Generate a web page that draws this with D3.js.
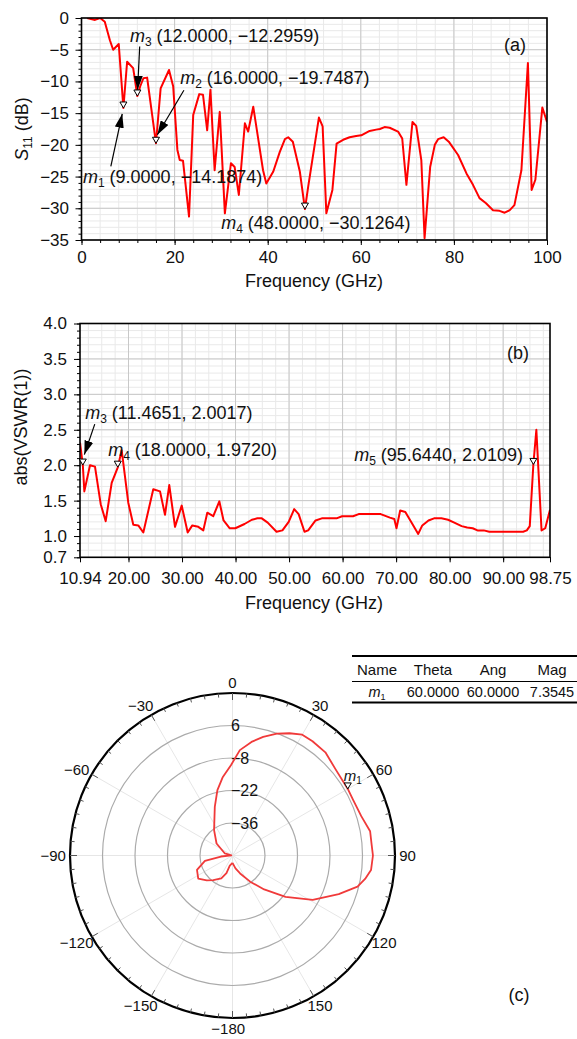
<!DOCTYPE html>
<meta charset="utf-8">
<style>
body { margin: 0; background: #fff; }
svg text { font-family: "Liberation Sans", Arial, sans-serif; fill: #111; }
</style>
<svg id="fig" width="577" height="1039"></svg>
<script src="https://cdn.jsdelivr.net/npm/d3@7"></script>
<script>

// (a) S11 in dB
var s11Freq = [1.2, 2.9, 4, 5, 6.1, 6.8, 8, 9, 9.8, 11.1, 12, 12.6, 13.3, 14.1, 16, 17, 18.8, 19.7,
  20.6, 21.1, 21.8, 23.1, 24, 25.3, 26.1, 27, 27.7, 28.6, 29.7, 30.8, 32.1, 32.9, 33.8, 35.1, 35.8,
  36.9, 39, 39.7, 41.2, 42.6, 43.7, 44.4, 45.4, 46.9, 48, 48.7, 51, 51.8, 52.6, 53.9, 54.8, 56.2,
  57.6, 59, 60.1, 61.9, 63.3, 64.1, 65.1, 66.2, 68, 68.9, 69.8, 71.1, 71.9, 73, 73.7, 74.9, 75.9,
  76.6, 77.8, 78.9, 80.9, 82.7, 84.1, 85.5, 86.9, 88.4, 89.8, 90.9, 92, 93, 94.5, 95.9, 96.7, 97.5,
  99, 100];
var s11Db = [0, -0.3, 0, -0.6, -3.5, -5, -4.1, -14.19, -6.9, -7.9, -12.3, -10.8, -9.5, -9.4, -19.75,
  -11.1, -8.2, -10.8, -20.8, -22.4, -22.5, -31.3, -15.3, -12, -12.1, -17.7, -11.3, -24, -14.8, -30.8,
  -22.9, -23.5, -27.9, -16.6, -17.9, -14, -24, -26.1, -24.2, -21.1, -19.1, -18.8, -19.5, -24.2,
  -30.13, -26.6, -15.7, -17.1, -30.8, -27.1, -19.8, -19.2, -18.8, -18.6, -18.5, -17.8, -17.6, -17.5,
  -17.2, -17.3, -17.9, -19, -26.3, -16.4, -17, -22.4, -34.7, -23.5, -20, -19.1, -18.8, -19.5, -21.6,
  -24.5, -26.3, -28.4, -29.2, -30.3, -30.4, -30.7, -30.3, -29.5, -24, -7.1, -27.1, -25.5, -14.1, -16.4];
var s11XTicks = [0, 20, 40, 60, 80, 100];
var s11YTicks = [0, -5, -10, -15, -20, -25, -30, -35];
var s11Markers = [
  {name: "1", f: 9, v: -14.1874, lx: 0.3, ly: -26.0, ax: [6.3, -23.4], bx: [8.75, -15.1]},
  {name: "2", f: 16, v: -19.7487, lx: 21.2, ly: -10.4, ax: [22.0, -11.4], bx: [16.3, -18.4]},
  {name: "3", f: 12, v: -12.2959, lx: 10.4, ly: -3.8, ax: [12.5, -4.5], bx: [12.05, -11.3]},
  {name: "4", f: 48, v: -30.1264, lx: 30.0, ly: -33.3}
];

// (b) VSWR
var vswrFreq = [10.94, 11.47, 11.75, 12.81, 13.74, 14.81, 15.74, 16.86, 18, 18.73, 19.96, 20.9, 21.83,
  22.77, 24.63, 25.89, 26.82, 27.62, 28.69, 29.94, 31.06, 31.92, 33.04, 33.98, 34.72, 35.84, 36.97,
  37.76, 38.92, 39.96, 41.68, 43.05, 44.08, 44.9, 46.01, 47.66, 48.76, 49.93, 50.96, 51.79, 52.88,
  53.57, 54.95, 56.12, 57.49, 58.87, 59.9, 61.96, 63, 64.7, 67.12, 68.84, 69.66, 70.07, 70.76, 71.72,
  72.96, 74.13, 74.89, 76.05, 77.09, 78.46, 79.7, 80.87, 82.24, 83.27, 84.31, 85.2, 86.37, 87.4,
  88.78, 92.21, 93.73, 94.42, 94.97, 95.64, 96.2, 97.17, 97.86, 98.75];
var vswrVal = [2.32, 2.0, 1.63, 2.0, 1.98, 1.45, 1.21, 1.75, 1.97, 2.21, 1.47, 1.16, 1.15, 1.05, 1.66,
  1.63, 1.3, 1.72, 1.13, 1.43, 1.05, 1.15, 1.13, 1.08, 1.33, 1.28, 1.49, 1.22, 1.11, 1.11, 1.17, 1.23,
  1.25, 1.25, 1.19, 1.06, 1.08, 1.2, 1.38, 1.31, 1.06, 1.08, 1.22, 1.25, 1.25, 1.25, 1.28, 1.28, 1.31,
  1.31, 1.31, 1.26, 1.24, 1.11, 1.36, 1.34, 1.18, 1.03, 1.15, 1.22, 1.25, 1.25, 1.23, 1.19, 1.14, 1.12,
  1.11, 1.08, 1.08, 1.06, 1.06, 1.06, 1.06, 1.08, 1.14, 2.01, 2.5, 1.08, 1.11, 1.37];
var vswrXTicks = [10.94, 20, 30, 40, 50, 60, 70, 80, 90, 98.75];
var vswrYTicks = [0.7, 1.0, 1.5, 2.0, 2.5, 3.0, 3.5, 4.0];
var vswrMarkers = [
  {name: "3", f: 11.4651, v: 2.0017, lx: 11.9, ly: 2.65, anchor: "start", ax: [13.7, 2.58], bx: [11.75, 2.15]},
  {name: "4", f: 18, v: 1.972, lx: 16.2, ly: 2.13, anchor: "start"},
  {name: "5", f: 95.644, v: 2.0109, lx: 93.7, ly: 2.06, anchor: "end"}
];

// (c) polar pattern
var polarAngle = [-180, -165, -161, -154, -142, -134, -124, -112, -101, -95, -88, -75, -53, -36, -20,
  -13, -7, -1, 4, 9.5, 14.5, 20, 25, 30, 35, 42, 50, 60, 65, 73, 80, 85, 90, 96, 100, 104, 110, 119,
  128, 137, 146, 157, 167, 180];
var polarDb = [-46.8, -45.5, -42, -39, -36.5, -34.6, -32.2, -33.5, -37.9, -45, -49.5, -46.6, -41.4,
  -36.5, -27.7, -21.1, -15.9, -11.1, -4.5, -0.4, 2.8, 5.9, 8.1, 10.1, 10.1, 9.8, 7.9, 7.35, 7.2, 8.0,
  10.2, 10.1, 10.5, 10, 8, 5.5, -1.3, -10.5, -21, -30, -36.4, -41.6, -44.3, -46.8];
var ringTicks = [-36, -22, -8, 6];
var angleTicks = [0, 30, 60, 90, 120, 150, -180, -150, -120, -90, -60, -30];
var tableHead = ["Name", "Theta", "Ang", "Mag"];
var tableRow = ["1", "60.0000", "60.0000", "7.3545"];

var svg = d3.select("#fig");

var defs = svg.append("defs");
defs.append("marker")
    .attr("id", "arr")
    .attr("viewBox", "0 0 14 9")
    .attr("refX", 14).attr("refY", 4.5)
    .attr("markerUnits", "userSpaceOnUse")
    .attr("markerWidth", 14).attr("markerHeight", 9)
    .attr("orient", "auto")
  .append("path").attr("d", "M0,0L14,4.5L0,9Z").attr("fill", "#000");

function grid(g, x, y, xs, ys, col) {
  g.append("g").selectAll("line").data(xs).enter().append("line")
      .attr("x1", function(d) { return x(d); }).attr("x2", function(d) { return x(d); })
      .attr("y1", y.range()[0]).attr("y2", y.range()[1])
      .attr("stroke", col).attr("stroke-width", 1);
  g.append("g").selectAll("line").data(ys).enter().append("line")
      .attr("y1", function(d) { return y(d); }).attr("y2", function(d) { return y(d); })
      .attr("x1", x.range()[0]).attr("x2", x.range()[1])
      .attr("stroke", col).attr("stroke-width", 1);
}

function axes(g, x, y, xt, yt, xMinor, yMinor, xfmt, yfmt, xpad, ypad) {
  var bottom = y.range()[0];
  var left = x.range()[0];
  g.append("g").attr("transform", "translate(0," + bottom + ")")
      .call(d3.axisBottom(x).tickValues(xMinor).tickSize(3).tickFormat(""));
  g.append("g").attr("transform", "translate(" + left + ",0)")
      .call(d3.axisLeft(y).tickValues(yMinor).tickSize(3).tickFormat(""));
  g.append("g").attr("class", "ax").attr("transform", "translate(0," + bottom + ")")
      .call(d3.axisBottom(x).tickValues(xt).tickSize(5).tickPadding(xpad).tickFormat(xfmt));
  g.append("g").attr("class", "ax").attr("transform", "translate(" + left + ",0)")
      .call(d3.axisLeft(y).tickValues(yt).tickSize(6).tickPadding(ypad).tickFormat(yfmt));
  g.selectAll(".domain").remove();
  g.selectAll(".tick line").attr("stroke", "#000");
  g.selectAll(".ax text").style("font-size", "17px").attr("fill", "#111");
  g.append("rect")
      .attr("x", left).attr("y", y.range()[1])
      .attr("width", x.range()[1] - left).attr("height", bottom - y.range()[1])
      .attr("fill", "none").attr("stroke", "#000").attr("stroke-width", 1.6);
}

function mlabel(g, x, y, m, text, anchor) {
  var t = g.append("text").attr("x", x).attr("y", y)
      .attr("text-anchor", anchor || "start").style("font-size", "18px");
  t.append("tspan").attr("font-style", "italic").text("m");
  t.append("tspan").attr("dy", 4).style("font-size", "12px").text(m);
  t.append("tspan").attr("dy", -4).text(" " + text);
}

function tri(g, px, py) {
  g.append("path")
      .attr("transform", "translate(" + px + "," + py + ")")
      .attr("d", "M-3.5,-6L3.5,-6L0,0Z")
      .attr("fill", "#fff").attr("stroke", "#000").attr("stroke-width", 1);
}

// ---------- (a) ----------
var xa = d3.scaleLinear().domain([0, 100]).range([81.5, 547]);
var ya = d3.scaleLinear().domain([-35, 0]).range([240, 18]);
var ga = svg.append("g");

grid(ga, xa, ya, d3.range(0, 101, 4), d3.range(-35, 1, 1), "#e9e9e9");
grid(ga, xa, ya, s11XTicks, s11YTicks, "#c8c8c8");

defs.append("clipPath").attr("id", "clipa").append("rect")
    .attr("x", 81.5).attr("y", 18).attr("width", 465.5).attr("height", 222);

ga.append("path")
    .datum(d3.zip(s11Freq, s11Db))
    .attr("clip-path", "url(#clipa)")
    .attr("fill", "none").attr("stroke", "#ff0000").attr("stroke-width", 2)
    .attr("stroke-linejoin", "round")
    .attr("d", d3.line().x(function(d) { return xa(d[0]); }).y(function(d) { return ya(d[1]); }));

axes(ga, xa, ya, s11XTicks, s11YTicks, d3.range(0, 101, 4), d3.range(-35, 1, 1),
  d3.format("d"), d3.format("d"), 5.5, 6.5);

s11Markers.forEach(function(m) {
  tri(ga, xa(m.f), ya(m.v));
  mlabel(ga, xa(m.lx), ya(m.ly), m.name,
    "(" + m.f.toFixed(4) + ", " + d3.format(".4f")(m.v) + ")");
  if (m.ax) {
    ga.append("line")
        .attr("x1", xa(m.ax[0])).attr("y1", ya(m.ax[1]))
        .attr("x2", xa(m.bx[0])).attr("y2", ya(m.bx[1]))
        .attr("stroke", "#000").attr("stroke-width", 1.2)
        .attr("marker-end", "url(#arr)");
  }
});

ga.append("text").attr("x", 515).attr("y", 51).attr("text-anchor", "middle")
    .style("font-size", "18px").text("(a)");
ga.append("text").attr("x", 314).attr("y", 287).attr("text-anchor", "middle")
    .style("font-size", "18px").text("Frequency (GHz)");
var yla = ga.append("text").attr("transform", "translate(28,129) rotate(-90)")
    .attr("text-anchor", "middle").style("font-size", "18px");
yla.append("tspan").attr("font-style", "italic").text("S");
yla.append("tspan").attr("dy", 4).style("font-size", "12px").text("11");
yla.append("tspan").attr("dy", -4).text(" (dB)");

// ---------- (b) ----------
var xb = d3.scaleLinear().domain([10.94, 98.75]).range([80, 550]);
var yb = d3.scaleLinear().domain([0.7, 4.0]).range([557.3, 323.5]);
var gb = svg.append("g");

var xbMinor = d3.range(12.5, 98.75, 2.5);
grid(gb, xb, yb, xbMinor, d3.range(0.8, 4.0, 0.1), "#e9e9e9");
grid(gb, xb, yb, vswrXTicks.slice(1, -1), vswrYTicks.slice(1, -1), "#c8c8c8");

defs.append("clipPath").attr("id", "clipb").append("rect")
    .attr("x", 80).attr("y", 323.5).attr("width", 470).attr("height", 233.8);

gb.append("path")
    .datum(d3.zip(vswrFreq, vswrVal))
    .attr("clip-path", "url(#clipb)")
    .attr("fill", "none").attr("stroke", "#ff0000").attr("stroke-width", 2)
    .attr("stroke-linejoin", "round")
    .attr("d", d3.line().x(function(d) { return xb(d[0]); }).y(function(d) { return yb(d[1]); }));

axes(gb, xb, yb, vswrXTicks, vswrYTicks, vswrXTicks, d3.range(0.7, 4.0001, 0.1),
  d3.format(".2f"), d3.format(".1f"), 9.5, 7);

vswrMarkers.forEach(function(m) {
  tri(gb, xb(m.f), yb(m.v));
  mlabel(gb, xb(m.lx), yb(m.ly), m.name,
    "(" + m.f.toFixed(4) + ", " + m.v.toFixed(4) + ")", m.anchor);
  if (m.ax) {
    gb.append("line")
        .attr("x1", xb(m.ax[0])).attr("y1", yb(m.ax[1]))
        .attr("x2", xb(m.bx[0])).attr("y2", yb(m.bx[1]))
        .attr("stroke", "#000").attr("stroke-width", 1.2)
        .attr("marker-end", "url(#arr)");
  }
});

gb.append("text").attr("x", 518).attr("y", 359).attr("text-anchor", "middle")
    .style("font-size", "18px").text("(b)");
gb.append("text").attr("x", 314).attr("y", 609).attr("text-anchor", "middle")
    .style("font-size", "18px").text("Frequency (GHz)");
gb.append("text").attr("transform", "translate(27,427) rotate(-90)")
    .attr("text-anchor", "middle").style("font-size", "18px").text("abs(VSWR(1))");

// ---------- (c) ----------
var rp = d3.scaleLinear().domain([-50, 20]).range([0, 162.5]);
var gc = svg.append("g").attr("transform", "translate(232.5,855.5)");
var rad = Math.PI / 180;

gc.selectAll(".spoke").data(d3.range(-180, 180, 30)).enter().append("line")
    .attr("x1", 0).attr("y1", 0)
    .attr("x2", function(d) { return rp(20) * Math.sin(d * rad); })
    .attr("y2", function(d) { return -rp(20) * Math.cos(d * rad); })
    .attr("stroke", "#e6e6e6").attr("stroke-width", 1);

gc.selectAll(".ring").data(ringTicks).enter().append("circle")
    .attr("r", function(d) { return rp(d); })
    .attr("fill", "none").attr("stroke", "#ababab").attr("stroke-width", 1.2);

gc.append("circle").attr("r", rp(20))
    .attr("fill", "none").attr("stroke", "#000").attr("stroke-width", 2.2);

gc.selectAll(".tk").data(d3.range(0, 360, 5)).enter().append("line")
    .attr("x1", function(d) { return rp(20) * Math.sin(d * rad); })
    .attr("y1", function(d) { return -rp(20) * Math.cos(d * rad); })
    .attr("x2", function(d) { var l = d % 30 ? 4 : 7; return (rp(20) - l) * Math.sin(d * rad); })
    .attr("y2", function(d) { var l = d % 30 ? 4 : 7; return -(rp(20) - l) * Math.cos(d * rad); })
    .attr("stroke", "#555").attr("stroke-width", 1);

// digits sit on the angle, a minus sign hangs off to the left
gc.selectAll(".alab").data(angleTicks).enter().append("text")
    .attr("x", function(d) {
      var cx = 175 * Math.sin(d * rad);
      return d < 0 ? cx + String(-d).length * 4.2 : cx;
    })
    .attr("y", function(d) { return -173 * Math.cos(d * rad); })
    .attr("text-anchor", function(d) { return d < 0 ? "end" : "middle"; })
    .attr("dominant-baseline", "central")
    .style("font-size", "15px")
    .text(function(d) { return d3.format("d")(d); });

gc.selectAll(".rlab").data(ringTicks).enter().append("text")
    .attr("x", -1.5).attr("y", function(d) { return -rp(d); })
    .attr("dominant-baseline", "central")
    .style("font-size", "16px")
    .text(function(d) { return d3.format("d")(d); });

gc.append("path")
    .datum(d3.zip(polarAngle, polarDb))
    .attr("fill", "none").attr("stroke", "#f03a3a").attr("stroke-width", 1.8)
    .attr("stroke-linejoin", "round")
    .attr("d", d3.lineRadial()
        .angle(function(d) { return d[0] * rad; })
        .radius(function(d) { return rp(d[1]); }));

var m1a = +tableRow[1], m1r = rp(+tableRow[3]);
var m1x = m1r * Math.sin(m1a * rad), m1y = -m1r * Math.cos(m1a * rad);
tri(gc, m1x, m1y);
var ml = gc.append("text").attr("x", m1x - 4).attr("y", m1y - 8).style("font-size", "15px");
ml.append("tspan").attr("font-style", "italic").text("m");
ml.append("tspan").attr("dy", 3).style("font-size", "10px").text("1");

// marker table
var gt = svg.append("g");
var colX = [377, 433, 493, 552];
gt.append("line").attr("x1", 352).attr("x2", 577).attr("y1", 656).attr("y2", 656)
    .attr("stroke", "#000").attr("stroke-width", 1.8);
gt.append("line").attr("x1", 352).attr("x2", 577).attr("y1", 681.5).attr("y2", 681.5)
    .attr("stroke", "#000").attr("stroke-width", 1.2);
gt.append("line").attr("x1", 352).attr("x2", 577).attr("y1", 702.5).attr("y2", 702.5)
    .attr("stroke", "#000").attr("stroke-width", 1.8);
gt.selectAll(".th").data(tableHead).enter().append("text")
    .attr("x", function(d, i) { return colX[i]; }).attr("y", 674.5)
    .attr("text-anchor", "middle").style("font-size", "15px")
    .text(function(d) { return d; });
gt.selectAll(".td").data(tableRow).enter().append("text")
    .attr("x", function(d, i) { return colX[i]; }).attr("y", 696.5)
    .attr("text-anchor", "middle").style("font-size", "14.5px")
    .each(function(d, i) {
      var t = d3.select(this);
      if (i === 0) {
        t.append("tspan").attr("font-style", "italic").text("m");
        t.append("tspan").attr("dy", 3).style("font-size", "9px").text(d);
      } else {
        t.text(d);
      }
    });

svg.append("text").attr("x", 519).attr("y", 1001).attr("text-anchor", "middle")
    .style("font-size", "18px").text("(c)");

</script>
